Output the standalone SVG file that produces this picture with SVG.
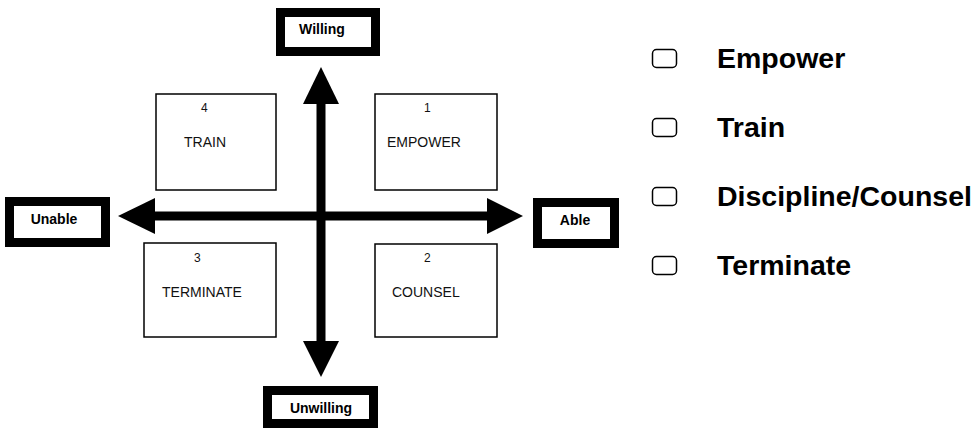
<svg xmlns="http://www.w3.org/2000/svg" width="977" height="429" viewBox="0 0 977 429">
<style>
.lbl{fill:#fff;stroke:#000;stroke-width:9}
.lt{font-family:"Liberation Sans",Arial,sans-serif;font-weight:bold;font-size:14px;fill:#000}
.q{fill:#fff;stroke:#000;stroke-width:1.5}
.qn{font-family:"Liberation Sans",Arial,sans-serif;font-size:12px;fill:#111}
.qt{font-family:"Liberation Sans",Arial,sans-serif;font-size:14px;fill:#111}
.cb{fill:#fff;stroke:#000;stroke-width:1.5}
.leg{font-family:"Liberation Sans",Arial,sans-serif;font-weight:bold;font-size:28.5px;fill:#000}
.ax{stroke:#000;stroke-width:9;fill:none}
.ah{fill:#000}
</style>
<rect width="977" height="429" fill="#fff"/>
<g id="quadrant4"><rect class="q" x="156" y="94" width="120" height="96"/><text class="qn" x="201" y="112">4</text><text class="qt" x="184" y="147">TRAIN</text></g>
<g id="quadrant1"><rect class="q" x="375" y="94" width="122" height="96"/><text class="qn" x="424" y="112">1</text><text class="qt" x="387" y="147">EMPOWER</text></g>
<g id="quadrant3"><rect class="q" x="144" y="243" width="132" height="94"/><text class="qn" x="194" y="262">3</text><text class="qt" x="162" y="297">TERMINATE</text></g>
<g id="quadrant2"><rect class="q" x="375" y="244" width="122" height="93"/><text class="qn" x="424" y="262">2</text><text class="qt" x="392" y="297">COUNSEL</text></g>
<g id="connectors">
<line class="ax" x1="321" y1="100" x2="321" y2="344"/>
<line class="ax" x1="152" y1="216" x2="490" y2="216"/>
<polygon class="ah" points="321,67 339,104 303,104"/>
<polygon class="ah" points="321,377 339,341 303,341"/>
<polygon class="ah" points="118,216 155,198 155,234"/>
<polygon class="ah" points="523,216 487,198 487,234"/>
</g>
<g id="willing"><rect class="lbl" x="280.5" y="12.5" width="95" height="39"/><text class="lt" x="322" y="34" text-anchor="middle">Willing</text></g>
<g id="unwilling"><rect class="lbl" x="267.5" y="390.5" width="106" height="33"/><text class="lt" x="321" y="413" text-anchor="middle">Unwilling</text></g>
<g id="unable"><rect class="lbl" x="9.5" y="201.5" width="96" height="41"/><text class="lt" x="54" y="224" text-anchor="middle">Unable</text></g>
<g id="able"><rect class="lbl" x="537.5" y="202.5" width="77" height="41"/><text class="lt" x="575" y="225" text-anchor="middle">Able</text></g>
<g id="legend-empower"><rect class="cb" x="652.5" y="49.5" width="24" height="18" rx="4"/><text class="leg" x="717" y="68">Empower</text></g>
<g id="legend-train"><rect class="cb" x="652.5" y="118.5" width="24" height="18" rx="4"/><text class="leg" x="717" y="137">Train</text></g>
<g id="legend-discipline"><rect class="cb" x="652.5" y="187.5" width="24" height="18" rx="4"/><text class="leg" x="717" y="206">Discipline/Counsel</text></g>
<g id="legend-terminate"><rect class="cb" x="652.5" y="256.5" width="24" height="18" rx="4"/><text class="leg" x="717" y="275">Terminate</text></g>
</svg>
